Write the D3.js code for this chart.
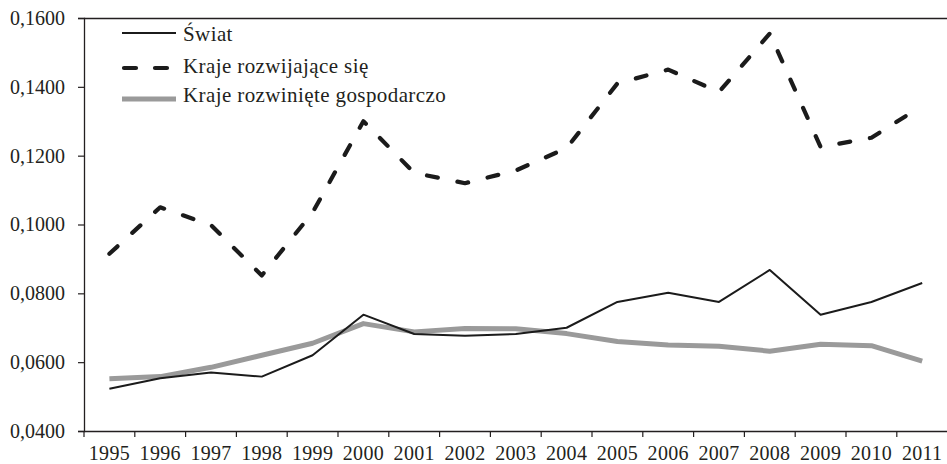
<!DOCTYPE html>
<html lang="pl">
  <head>
    <meta charset="UTF-8" />
    <title>Świat / kraje rozwijające się / rozwinięte</title>
    <script src="https://d3js.org/d3.v7.min.js"></script>
    <style>
      body {
        margin: 0;
        padding: 0;
        background: #ffffff;
      }
      svg text {
        font-family: "Liberation Serif", "Times New Roman", serif;
        fill: #231f20;
      }
    </style>
  </head>
  <body>
    <div id="chart"></div>

    <script>
      // -----------------------------
      // Data
      // -----------------------------
      const years = [
        "1995", "1996", "1997", "1998", "1999", "2000", "2001", "2002", "2003",
        "2004", "2005", "2006", "2007", "2008", "2009", "2010", "2011",
      ];
      const swiat = [
        0.0523, 0.0553, 0.0570, 0.0558, 0.0620, 0.0738, 0.0682, 0.0677, 0.0682,
        0.0700, 0.0775, 0.0802, 0.0775, 0.0868, 0.0738, 0.0775, 0.0830,
      ];
      const rozwijajace = [
        0.0915, 0.1050, 0.0998, 0.0852, 0.1035, 0.1300, 0.1150, 0.1120, 0.1157,
        0.1222, 0.1410, 0.1450, 0.1385, 0.1555, 0.1225, 0.1252, 0.1345,
      ];
      const rozwiniete = [
        0.0552, 0.0558, 0.0585, 0.0620, 0.0655, 0.0712, 0.0688, 0.0698, 0.0697,
        0.0683, 0.0660, 0.0650, 0.0646, 0.0632, 0.0652, 0.0648, 0.0603,
      ];
      const yTicks = [0.04, 0.06, 0.08, 0.1, 0.12, 0.14, 0.16];

      const series = [
        { name: "Świat", values: swiat, color: "#1b1b1b", width: 2, dash: null },
        { name: "Kraje rozwijające się", values: rozwijajace, color: "#1b1b1b", width: 4.2, dash: "11 20" },
        { name: "Kraje rozwinięte gospodarczo", values: rozwiniete, color: "#9a9a9a", width: 5, dash: null },
      ];

      // -----------------------------
      // SVG and scales
      // -----------------------------
      const W = 947, H = 464;
      const mLeft = 84, mRight = 947.6, mTop = 18, mBottom = 431;

      const svg = d3
        .select("#chart")
        .append("svg")
        .attr("width", W)
        .attr("height", H);

      const x = d3.scaleBand().domain(years).range([mLeft, mRight]).padding(0);
      const y = d3.scaleLinear().domain([0.04, 0.16]).range([mBottom, mTop]);

      const fmt = (v) => d3.format(".4f")(v).replace(".", ",");

      // top border of the plot area
      svg
        .append("line")
        .attr("x1", mLeft)
        .attr("x2", W)
        .attr("y1", mTop + 0.5)
        .attr("y2", mTop + 0.5)
        .attr("stroke", "#231f20")
        .attr("stroke-width", 1.3);

      // y axis
      const yAxis = svg
        .append("g")
        .attr("transform", `translate(${mLeft},0)`)
        .call(d3.axisLeft(y).tickValues(yTicks).tickFormat(fmt).tickSize(6).tickPadding(13));
      yAxis.select(".domain").attr("stroke", "#231f20").attr("stroke-width", 1.3);
      yAxis.selectAll(".tick line").attr("stroke", "#231f20").attr("stroke-width", 1.2);
      yAxis.selectAll("text").attr("font-size", 20).attr("fill", "#231f20");

      // x axis: ticks between categories
      const xAxis = svg
        .append("g")
        .attr("transform", `translate(0,${mBottom})`)
        .call(d3.axisBottom(x).tickSize(0).tickPadding(15));
      xAxis.select(".domain").attr("stroke", "#231f20").attr("stroke-width", 1.3);
      xAxis
        .selectAll("text")
        .attr("font-size", 20)
        .attr("letter-spacing", 0.3)
        .attr("fill", "#231f20");
      xAxis
        .selectAll(".sep")
        .data(d3.range(years.length + 1))
        .enter()
        .append("line")
        .attr("class", "sep")
        .attr("x1", (i) => mLeft + i * x.bandwidth())
        .attr("x2", (i) => mLeft + i * x.bandwidth())
        .attr("y1", 0)
        .attr("y2", 6)
        .attr("stroke", "#231f20")
        .attr("stroke-width", 1.2);

      // -----------------------------
      // Lines
      // -----------------------------
      const line = d3
        .line()
        .x((d, i) => x(years[i]) + x.bandwidth() / 2)
        .y((d) => y(d));

      // draw grey first, then world, then dashed on top
      [series[2], series[0], series[1]].forEach((s) => {
        svg
          .append("path")
          .datum(s.values)
          .attr("d", line)
          .attr("fill", "none")
          .attr("stroke", s.color)
          .attr("stroke-width", s.width)
          .attr("stroke-linejoin", "round")
          .attr("stroke-linecap", s.dash ? "round" : "butt")
          .attr("stroke-dasharray", s.dash);
      });

      // -----------------------------
      // Legend
      // -----------------------------
      const legendY = [33, 68, 99];
      const legendBase = [41, 73, 102];
      const legend = svg.append("g");
      series.forEach((s, i) => {
        legend
          .append("line")
          .attr("x1", s.dash ? 124 : 122)
          .attr("x2", s.dash ? 173 : 176)
          .attr("y1", legendY[i])
          .attr("y2", legendY[i])
          .attr("stroke", s.color)
          .attr("stroke-width", s.width)
          .attr("stroke-linecap", s.dash ? "round" : "butt")
          .attr("stroke-dasharray", s.dash ? "12 19" : null);
        legend
          .append("text")
          .attr("x", 183)
          .attr("y", legendBase[i])
          .attr("font-size", 21)
          .attr("letter-spacing", 0.4)
          .text(s.name);
      });
    </script>
  </body>
</html>
